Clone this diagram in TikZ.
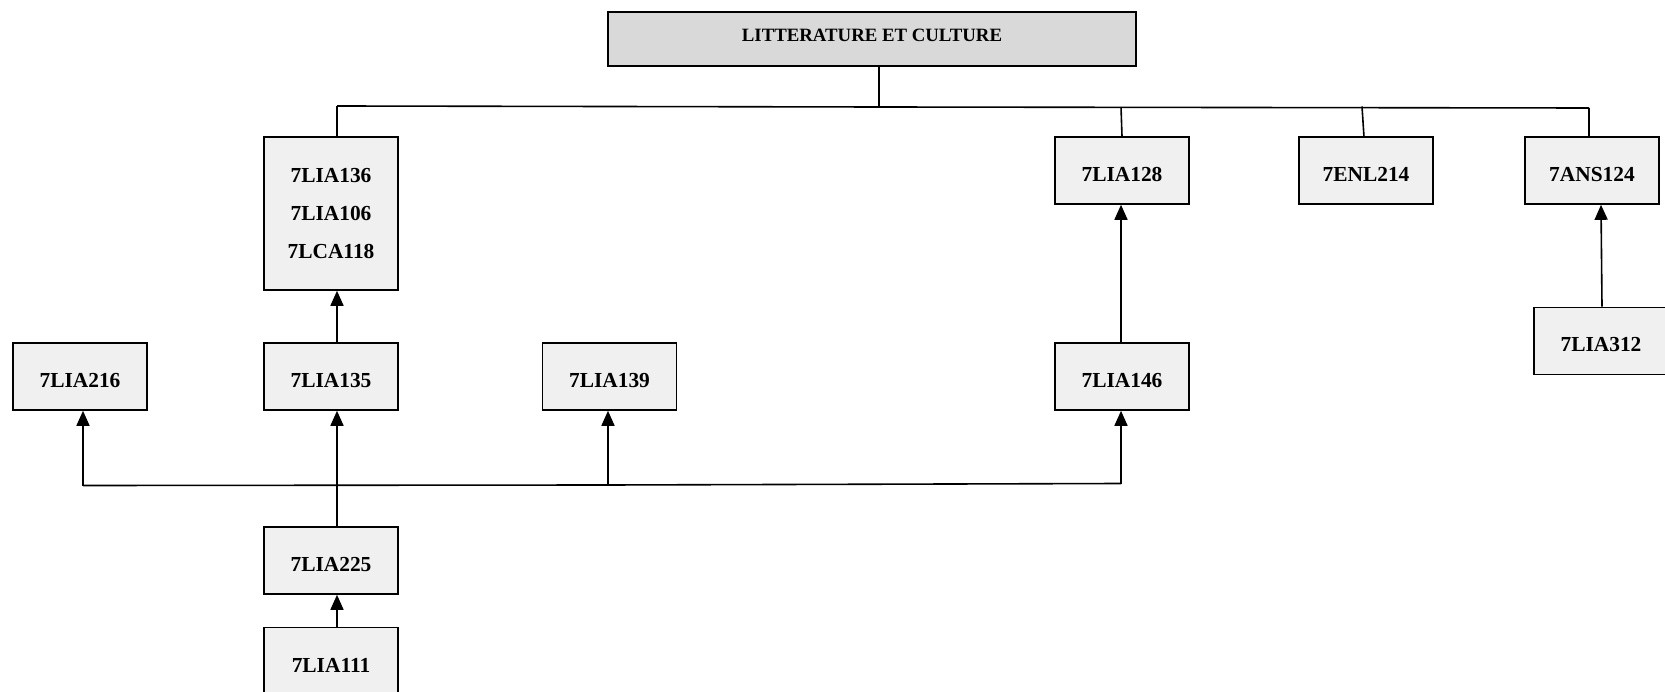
\documentclass[tikz,border=0pt]{standalone}
\usepackage{fontspec}
\setmainfont{Liberation Serif}
\usetikzlibrary{arrows.meta}
\begin{document}
\begin{tikzpicture}[x=1pt,y=-1pt,
  box/.style={draw=black,line width=1.6pt,fill=black!6,minimum width=134pt,minimum height=67pt,inner sep=0pt,font=\bfseries\fontsize{21.4}{37.7}\selectfont,align=center,text height=22pt,text depth=0pt},
  groupbox/.style={box,minimum height=153pt,text height={},text depth={}},
  topbox/.style={box,fill=black!15,minimum width=528pt,minimum height=54pt,font=\bfseries\fontsize{18.8}{20}\selectfont,text height={},text depth=8pt},
  ln/.style={line width=1.6pt},
  arr/.style={ln,-{Triangle[width=13pt,length=15pt]}}]
\useasboundingbox (0,0) rectangle (1665,692);
\node[topbox] (top) at (872,39) {LITTERATURE ET CULTURE};
\node[groupbox] (g) at (331,213.5) {7LIA136\\7LIA106\\7LCA118};
\node[box] (n128) at (1122,170.5) {7LIA128};
\node[box] (n214) at (1366,170.5) {7ENL214};
\node[box] (n124) at (1592,170.5) {7ANS124};
\node[box] (n312) at (1601,341) {7LIA312};
\node[box] (n216) at (80,376.5) {7LIA216};
\node[box] (n135) at (331,376.5) {7LIA135};
\node[box] (n139) at (609.5,376.5) {7LIA139};
\node[box] (n146) at (1122,376.5) {7LIA146};
\node[box] (n225) at (331,560.5) {7LIA225};
\node[box] (n111) at (331,661) {7LIA111};
% top bus
\coordinate (tj) at (879,107);
\coordinate (bl) at (337,106);
\coordinate (br) at (1589,108);
\draw[ln] (top.south -| tj) -- (tj);
\draw[ln] (bl) -- (tj) -- (br);
\draw[ln] (bl) -- (bl |- g.north);
\draw[ln] (1121,107) -- (n128.north);
\draw[ln] (1362,106.5) -- (1364,137);
\draw[ln] (br) -- (br |- n124.north);
% arrows
\draw[arr] ([xshift=6pt]n135.north) -- ([xshift=6pt]g.south);
\draw[arr] ([xshift=-1pt]n146.north) -- ([xshift=-1pt]n128.south);
\draw[arr] ([xshift=1pt]n312.north) -- ([xshift=9pt]n124.south);
\draw[arr] ([xshift=6pt]n111.north) -- ([xshift=6pt]n225.north |- n225.south);
% lower bus
\coordinate (cl) at (83,485.5);
\coordinate (cm) at (608,485);
\coordinate (cr) at (1121,483.5);
\draw[ln] (cl) -- (cm) -- (cr);
\draw[arr] (cl) -- (cl |- n216.south);
\draw[arr] (cm) -- (cm |- n139.south);
\draw[arr] (cr) -- (cr |- n146.south);
\draw[arr] ([xshift=6pt]n225.north) -- ([xshift=6pt]n135.south);
\end{tikzpicture}
\end{document}
